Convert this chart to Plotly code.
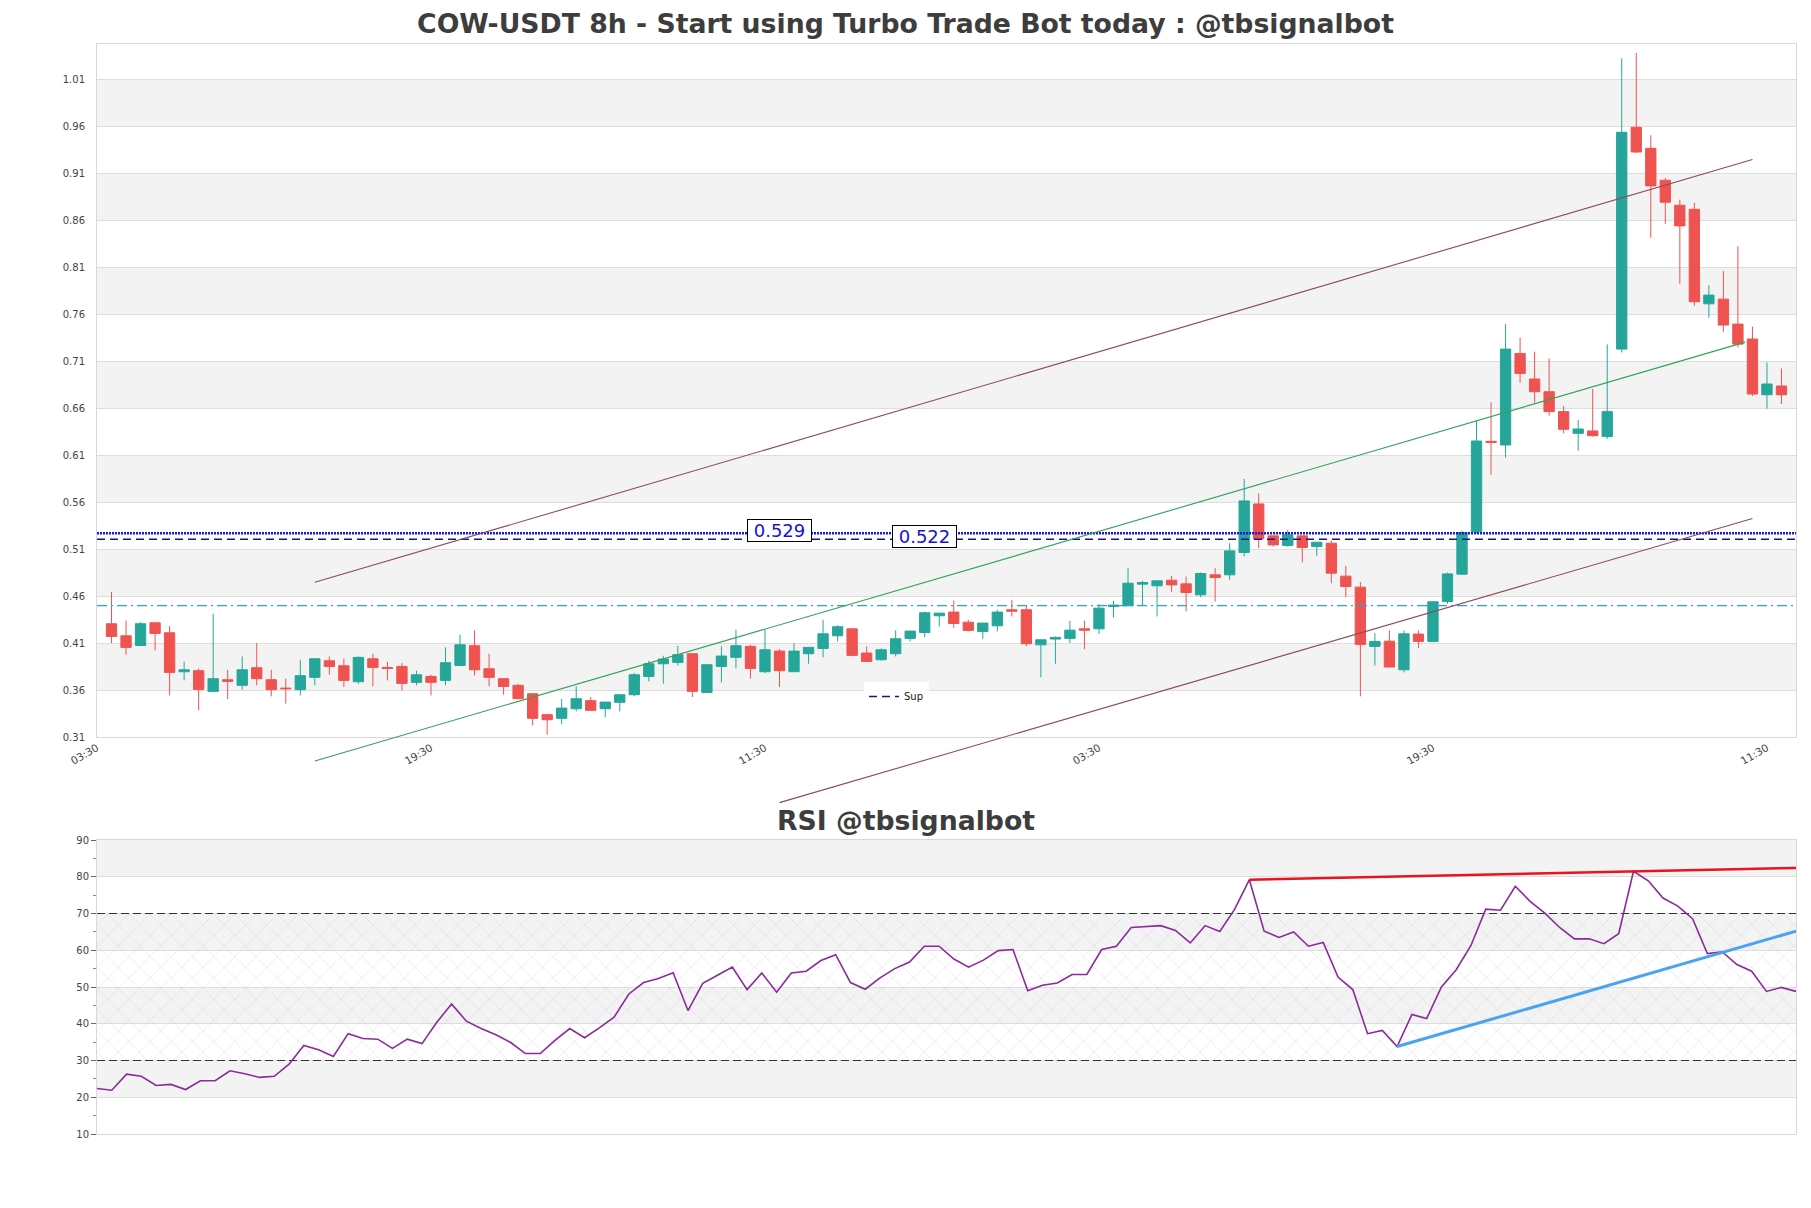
import plotly.graph_objects as go

# ---------------- data ----------------
CANDLE_INDEX = list(range(116))
OPEN = [0.4306, 0.4178, 0.4075, 0.4316, 0.4210, 0.3795, 0.3806, 0.3586, 0.3710, 0.3650,
        0.3838, 0.3710, 0.3621, 0.3604, 0.3735, 0.3912, 0.3859, 0.3689, 0.3933, 0.3841,
        0.3852, 0.3682, 0.3745, 0.3703, 0.3862, 0.4072, 0.3827, 0.3721, 0.3650, 0.3561,
        0.3338, 0.3299, 0.3401, 0.3487, 0.3401, 0.3469, 0.3550, 0.3745, 0.3880, 0.3894,
        0.3987, 0.3575, 0.3852, 0.3948, 0.4065, 0.3795, 0.4015, 0.3795, 0.3987, 0.4043,
        0.4178, 0.4252, 0.3994, 0.3923, 0.3987, 0.4150, 0.4213, 0.4391, 0.4430, 0.4323,
        0.4224, 0.4284, 0.4455, 0.4455, 0.4082, 0.4143, 0.4150, 0.4252, 0.4252, 0.4490,
        0.4497, 0.4728, 0.4710, 0.4770, 0.4731, 0.4614, 0.4827, 0.4827, 0.5065, 0.5582,
        0.5242, 0.5139, 0.5242, 0.5128, 0.5164, 0.4813, 0.4696, 0.4065, 0.4121, 0.3816,
        0.4196, 0.4118, 0.4543, 0.4834, 0.5288, 0.6249, 0.6210, 0.7185, 0.6912, 0.6777,
        0.6565, 0.6334, 0.6359, 0.6299, 0.7231, 0.9593, 0.9369, 0.9029, 0.8763, 0.8720,
        0.7713, 0.7763, 0.7497, 0.7338, 0.6745, 0.6838]
HIGH = [0.4646, 0.4341, 0.4323, 0.4316, 0.4281, 0.3901, 0.3830, 0.4412, 0.3816, 0.3958,
        0.4100, 0.3816, 0.3721, 0.3923, 0.3933, 0.3958, 0.3937, 0.3958, 0.3987, 0.3901,
        0.3887, 0.3806, 0.3763, 0.4054, 0.4189, 0.4235, 0.3987, 0.3728, 0.3667, 0.3561,
        0.3348, 0.3508, 0.3639, 0.3526, 0.3472, 0.3550, 0.3781, 0.3912, 0.3965, 0.4072,
        0.3987, 0.3870, 0.4065, 0.4242, 0.4082, 0.4249, 0.4036, 0.4100, 0.4054, 0.4348,
        0.4291, 0.4252, 0.4065, 0.4043, 0.4235, 0.4228, 0.4437, 0.4419, 0.4554, 0.4348,
        0.4313, 0.4455, 0.4561, 0.4497, 0.4135, 0.4171, 0.4338, 0.4338, 0.4515, 0.4550,
        0.4898, 0.4763, 0.4763, 0.4816, 0.4809, 0.4852, 0.4898, 0.5164, 0.5848, 0.5696,
        0.5242, 0.5306, 0.5242, 0.5174, 0.5192, 0.4923, 0.4752, 0.4206, 0.4235, 0.4235,
        0.4235, 0.4540, 0.4852, 0.5298, 0.6465, 0.6664, 0.7497, 0.7352, 0.7203, 0.7132,
        0.6625, 0.6476, 0.6806, 0.7281, 1.0327, 1.0384, 0.9508, 0.9054, 0.8823, 0.8791,
        0.7912, 0.8061, 0.8327, 0.7469, 0.7089, 0.7025]
LOW = [0.4100, 0.3976, 0.4075, 0.4022, 0.3543, 0.3703, 0.3384, 0.3579, 0.3504, 0.3604,
       0.3650, 0.3533, 0.3455, 0.3543, 0.3650, 0.3763, 0.3632, 0.3664, 0.3639, 0.3703,
       0.3596, 0.3650, 0.3543, 0.3650, 0.3862, 0.3756, 0.3639, 0.3550, 0.3508, 0.3224,
       0.3125, 0.3238, 0.3373, 0.3384, 0.3309, 0.3373, 0.3533, 0.3692, 0.3667, 0.3862,
       0.3526, 0.3568, 0.3682, 0.3830, 0.3721, 0.3781, 0.3632, 0.3795, 0.3880, 0.3948,
       0.4118, 0.3969, 0.3905, 0.3912, 0.3958, 0.4118, 0.4164, 0.4277, 0.4260, 0.4224,
       0.4146, 0.4224, 0.4384, 0.4065, 0.3735, 0.3880, 0.4100, 0.4036, 0.4196, 0.4373,
       0.4497, 0.4504, 0.4384, 0.4646, 0.4437, 0.4589, 0.4543, 0.4774, 0.5022, 0.5111,
       0.5128, 0.5128, 0.4959, 0.5029, 0.4738, 0.4589, 0.3533, 0.3862, 0.3845, 0.3788,
       0.4047, 0.4118, 0.4518, 0.4827, 0.5270, 0.5891, 0.6075, 0.6873, 0.6660, 0.6522,
       0.6334, 0.6150, 0.6299, 0.6274, 0.7196, 0.9320, 0.8416, 0.8564, 0.7926, 0.7692,
       0.7565, 0.7416, 0.7249, 0.6731, 0.6596, 0.6646]
CLOSE = [0.4171, 0.4054, 0.4306, 0.4203, 0.3788, 0.3816, 0.3607, 0.3721, 0.3692, 0.3816,
         0.3721, 0.3604, 0.3614, 0.3753, 0.3933, 0.3852, 0.3703, 0.3948, 0.3841, 0.3830,
         0.3671, 0.3763, 0.3682, 0.3891, 0.4082, 0.3816, 0.3735, 0.3639, 0.3508, 0.3299,
         0.3284, 0.3408, 0.3508, 0.3384, 0.3472, 0.3550, 0.3763, 0.3880, 0.3930, 0.3976,
         0.3586, 0.3870, 0.3962, 0.4072, 0.3830, 0.4029, 0.3806, 0.4015, 0.4054, 0.4199,
         0.4274, 0.3969, 0.3905, 0.4029, 0.4146, 0.4228, 0.4423, 0.4419, 0.4309, 0.4235,
         0.4313, 0.4430, 0.4440, 0.4093, 0.4135, 0.4160, 0.4238, 0.4238, 0.4472, 0.4504,
         0.4738, 0.4745, 0.4763, 0.4720, 0.4639, 0.4841, 0.4799, 0.5082, 0.5614, 0.5210,
         0.5146, 0.5253, 0.5118, 0.5174, 0.4845, 0.4703, 0.4086, 0.4118, 0.3845, 0.4199,
         0.4118, 0.4540, 0.4837, 0.5277, 0.6252, 0.6238, 0.7231, 0.6972, 0.6777, 0.6565,
         0.6377, 0.6380, 0.6309, 0.6565, 0.9540, 0.9330, 0.8969, 0.8795, 0.8543, 0.7735,
         0.7806, 0.7487, 0.7284, 0.6752, 0.6859, 0.6745]

RSI = [22.4, 21.9, 26.3, 25.7, 23.2, 23.5, 22.1, 24.5, 24.5, 27.2,
       26.4, 25.4, 25.7, 29.0, 34.1, 32.9, 31.1, 37.3, 36.0, 35.8,
       33.3, 35.8, 34.6, 40.4, 45.4, 40.7, 38.7, 37.0, 34.9, 31.9,
       31.9, 35.5, 38.7, 36.2, 38.9, 41.8, 48.1, 51.2, 52.3, 53.9,
       43.6, 51.0, 53.2, 55.4, 49.3, 53.8, 48.6, 53.8, 54.3, 57.2,
       58.8, 51.2, 49.4, 52.5, 55.0, 56.8, 61.1, 61.1, 57.6, 55.4,
       57.3, 59.9, 60.2, 49.0, 50.5, 51.1, 53.4, 53.4, 60.2, 61.1,
       66.2, 66.4, 66.7, 65.4, 62.0, 66.7, 65.1, 71.1, 79.2, 65.2,
       63.5, 65.0, 61.1, 62.1, 52.7, 49.3, 37.3, 38.2, 33.8, 42.5,
       41.4, 50.0, 54.7, 61.3, 71.2, 70.9, 77.4, 73.3, 70.1, 66.2,
       63.1, 63.1, 61.8, 64.5, 81.5, 78.9, 74.2, 72.0, 68.6, 59.1,
       59.6, 56.1, 54.3, 48.8, 49.9, 48.8]
RSI_INDEX = list(range(len(RSI)))

# trend lines (candle index, price)
UPPER_CH_X = [14, 113]
UPPER_CH_Y = [0.4747, 0.9250]
LOWER_CH_X = [46, 113]
LOWER_CH_Y = [0.2401, 0.5427]
GREEN_X = [14, 112.5]
GREEN_Y = [0.2845, 0.7305]

# horizontal levels
DOTTED_LEVEL = 0.527
DOTTED_LABEL = "0.529"
SUP_LEVEL = 0.5205
SUP_LABEL = "0.522"
CYAN_LEVEL = 0.4500
LABEL_X = [46, 56]

# RSI trend lines
RSI_RED_X = [78, 115]
RSI_RED_Y = [79.2, 82.4]
RSI_BLUE_X = [88, 115]
RSI_BLUE_Y = [33.8, 65.2]

X_TICK_POS = [-1, 22, 45, 68, 91, 114]
X_TICK_TEXT = ["03:30", "19:30", "11:30", "03:30", "19:30", "11:30"]
Y_TICKS = [0.31, 0.36, 0.41, 0.46, 0.51, 0.56, 0.61, 0.66, 0.71, 0.76, 0.81, 0.86, 0.91, 0.96, 1.01]
RSI_TICKS = [10, 20, 30, 40, 50, 60, 70, 80, 90]
RSI_MINOR = [15, 25, 35, 45, 55, 65, 75, 85]

# ---------------- style / layout ----------------
W, H = 1811, 1208
ML, MR, MT, MB = 97, 15, 44, 74
PLOT_H = H - MT - MB
MAIN_BOTTOM = (H - MB - 737) / PLOT_H
RSI_TOP = (H - MB - 840) / PLOT_H
OVER_BOTTOM = (H - MB - 812) / PLOT_H
Y_RANGE = [0.31, 1.048]
X_RANGE = [-1, 116]
px_per_unit = (1 - MAIN_BOTTOM) * PLOT_H / (Y_RANGE[1] - Y_RANGE[0])
Y3_RANGE = [Y_RANGE[0] - (MAIN_BOTTOM - OVER_BOTTOM) * PLOT_H / px_per_unit, Y_RANGE[1]]

UP = "#26a69a"
DOWN = "#ef5350"
FONT = "DejaVu Sans"
TICKFONT = dict(family=FONT, size=10, color="#444444")
XTICKFONT = dict(family=FONT, size=10.5, color="#444444")
BAND = "#f3f3f3"
GRID = "#dedede"
FRAME = "#d8d8d8"
NB = "\u00a0"

fig = go.Figure()

fig.add_trace(go.Candlestick(
    x=CANDLE_INDEX, open=OPEN, high=HIGH, low=LOW, close=CLOSE,
    increasing=dict(line=dict(color=UP, width=1), fillcolor=UP),
    decreasing=dict(line=dict(color=DOWN, width=1), fillcolor=DOWN),
    xaxis="x", yaxis="y", showlegend=False, hoverinfo="skip", name="price"))

fig.add_trace(go.Scatter(x=X_RANGE, y=[CYAN_LEVEL] * 2, mode="lines",
                         line=dict(color="#2a9fd6", width=1.3, dash="10px,4px,2px,4px"),
                         xaxis="x", yaxis="y", showlegend=False, hoverinfo="skip"))
fig.add_trace(go.Scatter(x=X_RANGE, y=[DOTTED_LEVEL] * 2, mode="lines",
                         line=dict(color="#1a1acc", width=2.6, dash="2px,1px"),
                         xaxis="x", yaxis="y", showlegend=False, hoverinfo="skip"))
fig.add_trace(go.Scatter(x=X_RANGE, y=[SUP_LEVEL] * 2, mode="lines",
                         line=dict(color="#14148c", width=1.5, dash="8px,5px"),
                         xaxis="x", yaxis="y", showlegend=True, name="Sup", hoverinfo="skip"))

# channel lines on an overlay axis pair with identical scale (not clipped at plot bottom)
for xs, ys, col in [(UPPER_CH_X, UPPER_CH_Y, "#8e4a5c"),
                    (LOWER_CH_X, LOWER_CH_Y, "#8e4a5c"),
                    (GREEN_X, GREEN_Y, "#33a15a")]:
    fig.add_trace(go.Scatter(x=xs, y=ys, mode="lines", line=dict(color=col, width=1.1),
                             xaxis="x3", yaxis="y3", showlegend=False, hoverinfo="skip"))

# RSI panel
fig.add_trace(go.Scatter(x=[0, 115, 115, 0, 0], y=[30, 30, 70, 70, 30], mode="lines",
                         fill="toself", fillcolor="rgba(210,195,225,0.10)",
                         fillpattern=dict(shape="x", size=15, solidity=0.07,
                                          fgcolor="rgba(195,180,210,0.5)",
                                          bgcolor="rgba(0,0,0,0)", fillmode="replace"),
                         line=dict(width=0), xaxis="x2", yaxis="y2",
                         showlegend=False, hoverinfo="skip"))
for lvl in (70, 30):
    fig.add_trace(go.Scatter(x=[0, 115], y=[lvl, lvl], mode="lines",
                             line=dict(color="#333333", width=1.2, dash="8px,4px"),
                             xaxis="x2", yaxis="y2", showlegend=False, hoverinfo="skip"))
fig.add_trace(go.Scatter(x=RSI_INDEX, y=RSI, mode="lines",
                         line=dict(color="#8b2a9b", width=1.6),
                         xaxis="x2", yaxis="y2", showlegend=False, hoverinfo="skip"))
fig.add_trace(go.Scatter(x=RSI_RED_X, y=RSI_RED_Y, mode="lines",
                         line=dict(color="#e8141e", width=2.6),
                         xaxis="x2", yaxis="y2", showlegend=False, hoverinfo="skip"))
fig.add_trace(go.Scatter(x=RSI_BLUE_X, y=RSI_BLUE_Y, mode="lines",
                         line=dict(color="#4aa3f0", width=3),
                         xaxis="x2", yaxis="y2", showlegend=False, hoverinfo="skip"))

# alternating background bands
shapes = []
for k in range(len(Y_TICKS) - 1):
    if k % 2 == 1:
        shapes.append(dict(type="rect", xref="x domain", yref="y", x0=0, x1=1,
                           y0=Y_TICKS[k], y1=Y_TICKS[k + 1], fillcolor=BAND,
                           line=dict(width=0), layer="below"))
for k in range(len(RSI_TICKS) - 1):
    if k % 2 == 1:
        shapes.append(dict(type="rect", xref="x2 domain", yref="y2", x0=0, x1=1,
                           y0=RSI_TICKS[k], y1=RSI_TICKS[k + 1], fillcolor=BAND,
                           line=dict(width=0), layer="below"))

annotations = []
for xv, yv, txt in [(LABEL_X[0], DOTTED_LEVEL, DOTTED_LABEL), (LABEL_X[1], SUP_LEVEL, SUP_LABEL)]:
    annotations.append(dict(x=xv, y=yv, xref="x", yref="y", text=NB + txt + NB, showarrow=False,
                            yshift=2.5, font=dict(family=FONT, size=18, color="#1414d2"),
                            bgcolor="white", bordercolor="black", borderwidth=1, borderpad=0))
annotations.append(dict(x=(W / 2 - ML) / (W - ML - MR), y=(H - MB - 820.5) / PLOT_H,
                        xref="paper", yref="paper", text="RSI @tbsignalbot", showarrow=False,
                        xanchor="center", yanchor="middle",
                        font=dict(family=FONT, size=26.7, color="#3d3d3d", weight="bold")))

axis_common = dict(showline=True, mirror=True, linecolor=FRAME, linewidth=1, zeroline=False)

fig.update_layout(
    width=W, height=H,
    margin=dict(l=ML, r=MR, t=MT, b=MB, autoexpand=False),
    paper_bgcolor="white", plot_bgcolor="rgba(0,0,0,0)",
    boxgap=0.29, boxgroupgap=0,
    title=dict(text="COW-USDT 8h - Start using Turbo Trade Bot today : @tbsignalbot",
               x=0.5, xref="container", xanchor="center",
               y=1 - 24 / H, yref="container", yanchor="middle",
               font=dict(family=FONT, size=26.7, color="#3d3d3d", weight="bold")),
    xaxis=dict(domain=[0, 1], range=X_RANGE, anchor="y", tickvals=X_TICK_POS,
               ticktext=X_TICK_TEXT, tickangle=-30, tickfont=XTICKFONT, showgrid=False,
               ticks="", rangeslider=dict(visible=False), **axis_common),
    yaxis=dict(domain=[MAIN_BOTTOM, 1], range=Y_RANGE, anchor="x", tickvals=Y_TICKS,
               ticktext=[f"{v:.2f}" for v in Y_TICKS], tickfont=TICKFONT, showgrid=True,
               gridcolor=GRID, gridwidth=1, ticks="", ticklabelstandoff=9, **axis_common),
    xaxis2=dict(domain=[0, 1], range=[0, 115], anchor="y2", showticklabels=False,
                showgrid=False, ticks="", **axis_common),
    yaxis2=dict(domain=[0, RSI_TOP], range=[10, 90], anchor="x2", tickvals=RSI_TICKS,
                tickfont=TICKFONT, showgrid=True, gridcolor=GRID, gridwidth=1,
                ticks="outside", ticklen=5, tickcolor="#666666", tickwidth=1,
                minor=dict(tickvals=RSI_MINOR, ticks="outside", ticklen=3,
                           tickcolor="#888888", showgrid=False),
                **axis_common),
    xaxis3=dict(domain=[0, 1], range=X_RANGE, anchor="y3", visible=False),
    yaxis3=dict(domain=[OVER_BOTTOM, 1], range=Y3_RANGE, anchor="x3", visible=False),
    showlegend=True,
    legend=dict(x=(864 - ML) / (W - ML - MR), y=(H - MB - 682) / PLOT_H,
                xanchor="left", yanchor="top", bgcolor="rgba(255,255,255,0.85)",
                borderwidth=0, itemwidth=30,
                font=dict(family=FONT, size=10, color="#222222")),
    shapes=shapes,
    annotations=annotations,
)

fig.write_html("out.html", config={"displayModeBar": False},
               post_script="document.body.style.margin='0';")
